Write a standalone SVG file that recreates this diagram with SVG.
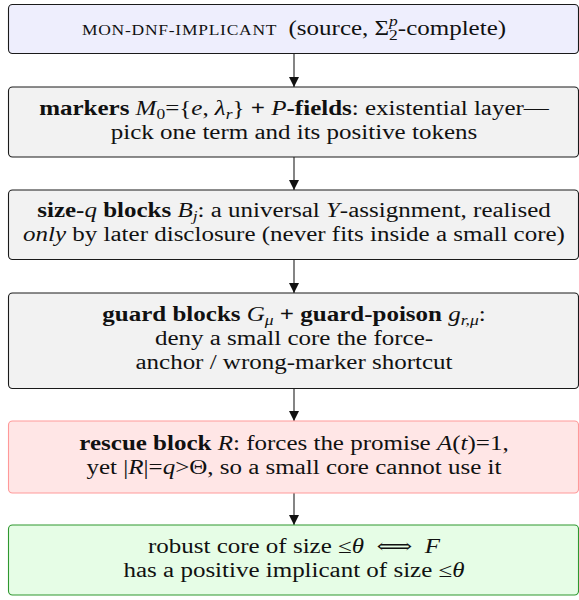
<svg xmlns="http://www.w3.org/2000/svg" width="579" height="600" viewBox="0 0 579 600">
<defs>
<marker id="ah" viewBox="0 0 10 12" refX="10" refY="6" markerWidth="10" markerHeight="12" markerUnits="userSpaceOnUse" orient="auto">
<path d="M0,1 L10,6 L0,11 z" fill="#111"/>
</marker>
</defs>
<style>
text{font-family:"Liberation Serif","DejaVu Serif","Times New Roman",serif;font-size:20px;fill:#111;text-anchor:middle}
.b{font-weight:bold}
.i{font-style:italic}
.s{font-size:14px}
.sc{font-size:14px;letter-spacing:0.6px}
.box{stroke-width:1.1}
.n{fill:#f2f2f2;stroke:#1a1a1a}
.src{fill:#eeeefd;stroke:#1a1a1a}
.red{fill:#ffe6e6;stroke:#ff9999}
.grn{fill:#e6fde6;stroke:#2f972f}
.c line{stroke:#333;stroke-width:1.2;marker-end:url(#ah)}
</style>
<g class="c" id="connectors">
<line x1="294" y1="53.5" x2="294" y2="87"/>
<line x1="294" y1="157" x2="294" y2="190"/>
<line x1="294" y1="259.5" x2="294" y2="293"/>
<line x1="294" y1="388.5" x2="294" y2="421"/>
<line x1="294" y1="493" x2="294" y2="525"/>
</g>
<g id="n1">
<rect class="box src" x="8.5" y="4.5" width="570" height="49" rx="4"/>
<text transform="translate(294 0) scale(1.25 1)" x="0" y="35"><tspan class="sc">MON-DNF-IMPLICANT</tspan><tspan dx="9">(source, Σ</tspan><tspan class="s i" dy="-9">p</tspan><tspan class="s" dx="-7" dy="14">2</tspan><tspan dy="-5">-complete)</tspan></text>
</g>
<g id="n2">
<rect class="box n" x="8.5" y="87" width="570" height="70" rx="4"/>
<text transform="translate(294 0) scale(1.25 1)" x="0" y="115"><tspan class="b">markers</tspan> <tspan class="i">M</tspan><tspan class="s" dy="4">0</tspan><tspan dy="-4">={</tspan><tspan class="i">e</tspan>, <tspan class="i">λ</tspan><tspan class="s i" dy="4">r</tspan><tspan dy="-4">}</tspan> <tspan class="b">+</tspan> <tspan class="i">P</tspan><tspan class="b">-fields</tspan>: existential layer—</text>
<text transform="translate(294 0) scale(1.25 1)" x="0" y="139">pick one term and its positive tokens</text>
</g>
<g id="n3">
<rect class="box n" x="8.5" y="190" width="570" height="69.5" rx="4"/>
<text transform="translate(294 0) scale(1.25 1)" x="0" y="217.5"><tspan class="b">size-</tspan><tspan class="i">q</tspan> <tspan class="b">blocks</tspan> <tspan class="i">B</tspan><tspan class="s i" dy="4">j</tspan><tspan dy="-4">: a universal </tspan><tspan class="i">Y</tspan>-assignment, realised</text>
<text transform="translate(294 0) scale(1.25 1)" x="0" y="241.5"><tspan class="i">only</tspan> by later disclosure (never fits inside a small core)</text>
</g>
<g id="n4">
<rect class="box n" x="8.5" y="293" width="570" height="95.5" rx="4"/>
<text transform="translate(294 0) scale(1.25 1)" x="0" y="321.5"><tspan class="b">guard blocks</tspan> <tspan class="i">G</tspan><tspan class="s i" dy="4">μ</tspan><tspan dy="-4"> </tspan><tspan class="b">+ guard-poison</tspan> <tspan class="i">g</tspan><tspan class="s i" dy="4">r,μ</tspan><tspan dy="-4">:</tspan></text>
<text transform="translate(294 0) scale(1.25 1)" x="0" y="345.5">deny a small core the force-</text>
<text transform="translate(294 0) scale(1.25 1)" x="0" y="369.5">anchor / wrong-marker shortcut</text>
</g>
<g id="n5">
<rect class="box red" x="8.5" y="421" width="570" height="72" rx="4"/>
<text transform="translate(294 0) scale(1.25 1)" x="0" y="450"><tspan class="b">rescue block</tspan> <tspan class="i">R</tspan>: forces the promise <tspan class="i">A</tspan>(<tspan class="i">t</tspan>)=1,</text>
<text transform="translate(294 0) scale(1.25 1)" x="0" y="474">yet |<tspan class="i">R</tspan>|=<tspan class="i">q</tspan>&gt;Θ, so a small core cannot use it</text>
</g>
<g id="n6">
<rect class="box grn" x="8.5" y="525" width="570" height="70" rx="4"/>
<text transform="translate(294 0) scale(1.25 1)" x="0" y="553">robust core of size ≤<tspan class="i">θ</tspan><tspan dx="10">⟺</tspan><tspan class="i" dx="10">F</tspan></text>
<text transform="translate(294 0) scale(1.25 1)" x="0" y="577">has a positive implicant of size ≤<tspan class="i">θ</tspan></text>
</g>
</svg>
